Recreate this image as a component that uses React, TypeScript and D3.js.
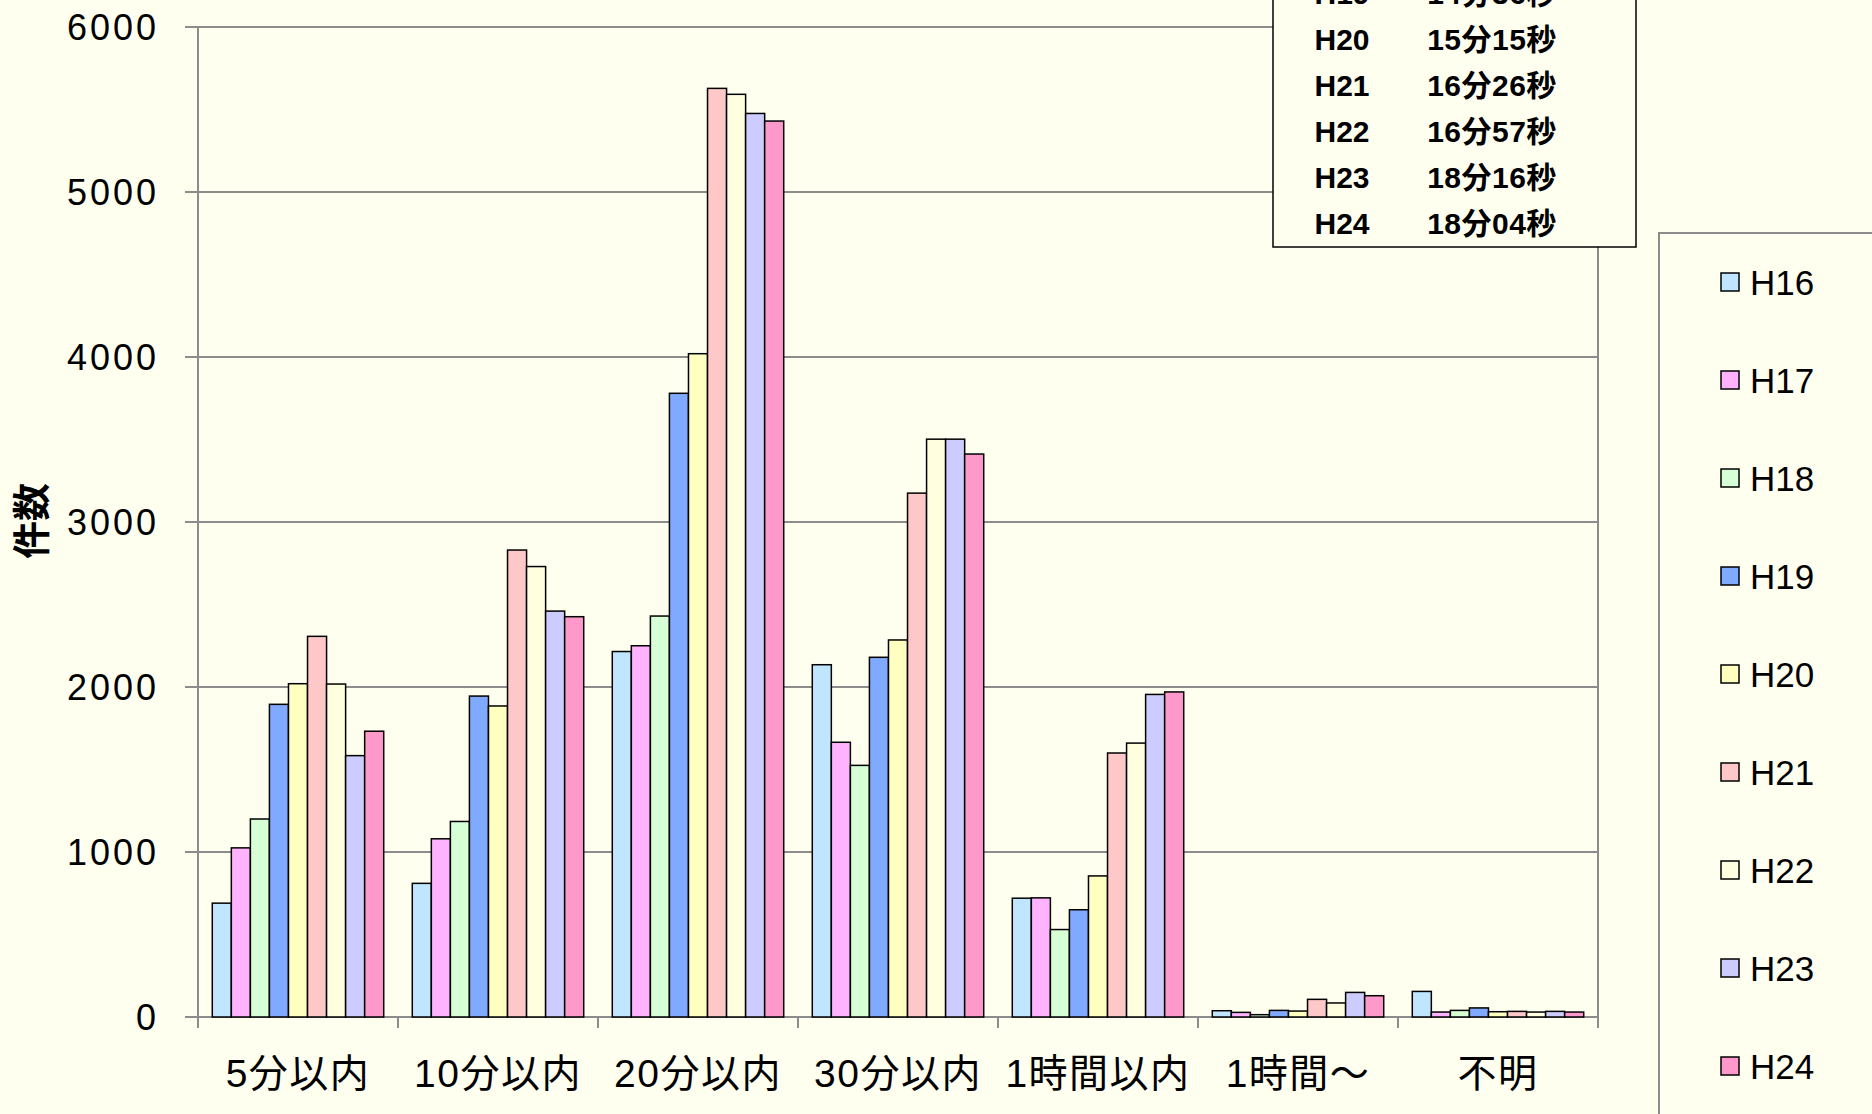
import React from "react";
import * as d3 from "d3";

const categories = ["5分以内", "10分以内", "20分以内", "30分以内", "1時間以内", "1時間～", "不明"];
const years = ["H16", "H17", "H18", "H19", "H20", "H21", "H22", "H23", "H24"];

// counts per year, one entry per category
const h16 = [690, 810, 2215, 2135, 720, 38, 155];
const h17 = [1025, 1080, 2250, 1665, 722, 28, 30];
const h18 = [1200, 1185, 2430, 1525, 530, 14, 40];
const h19 = [1895, 1945, 3780, 2180, 650, 40, 55];
const h20 = [2020, 1885, 4020, 2285, 855, 36, 32];
const h21 = [2307, 2830, 5628, 3175, 1600, 107, 34];
const h22 = [2018, 2730, 5592, 3502, 1660, 85, 30];
const h23 = [1584, 2460, 5476, 3502, 1955, 149, 34];
const h24 = [1732, 2426, 5430, 3412, 1970, 129, 30];
const seriesValues = [h16, h17, h18, h19, h20, h21, h22, h23, h24];

const colors = ["#c0e6ff", "#ffb3ff", "#d6ffd6", "#80aaff", "#ffffc0", "#ffc8c8", "#ffffe0", "#ccccff", "#ff99cc"];
const yTicks = [0, 1000, 2000, 3000, 4000, 5000, 6000];

// average time box (upper rows fall off the top of the picture)
const boxYears = ["H19", "H20", "H21", "H22", "H23", "H24"];
const boxTimes = ["14分36秒", "15分15秒", "16分26秒", "16分57秒", "18分16秒", "18分04秒"];

const W = 1872;
const H = 1114;
const BG = "#fffff0";
const GRID = "#8c8c8c";
const FONT = "'Liberation Sans', Arial, 'Noto Sans CJK JP', sans-serif";

export default function App() {
  const left = 198, right = 1598, top = 27, bottom = 1017;

  const x0 = d3.scaleBand<string>().domain(categories).range([left, right]).padding(0);
  const x1 = d3
    .scaleBand<string>()
    .domain(years)
    .range([0, x0.bandwidth()])
    .paddingInner(0)
    .paddingOuter(0.75);
  const y = d3.scaleLinear().domain([0, 6000]).range([bottom, top]);

  const boxRow = d3.scaleLinear().domain([0, boxYears.length - 1]).range([-7, 223]);
  const legendY = d3.scalePoint<string>().domain(years).range([282, 1066]);

  const boundaries = categories.map((c) => x0(c)!).concat([right]);

  return (
    <div style={{ position: "absolute", left: 0, top: 0 }}>
      <svg width={W} height={H} style={{ display: "block", fontFamily: FONT }}>
        <rect x={0} y={0} width={W} height={H} fill={BG} />

        {/* grid lines + y ticks */}
        {yTicks.map((t) => (
          <g key={t}>
            <line x1={185} x2={right} y1={y(t)} y2={y(t)} stroke={GRID} strokeWidth={2} />
            <text
              x={159}
              y={y(t)}
              dy="0.36em"
              textAnchor="end"
              fontSize={36}
              letterSpacing={3}
              fill="#000"
            >
              {t}
            </text>
          </g>
        ))}

        {/* axes */}
        <line x1={left} x2={left} y1={top} y2={bottom + 11} stroke={GRID} strokeWidth={2} />
        <line x1={right} x2={right} y1={top} y2={bottom + 11} stroke={GRID} strokeWidth={2} />
        {boundaries.map((bx, i) => (
          <line key={i} x1={bx} x2={bx} y1={bottom} y2={bottom + 11} stroke={GRID} strokeWidth={2} />
        ))}

        {/* bars */}
        {categories.map((c, ci) => (
          <g key={c} transform={`translate(${x0(c)},0)`}>
            {years.map((yr, si) => {
              const v = seriesValues[si][ci];
              return (
                <rect
                  key={yr}
                  x={x1(yr)}
                  y={y(v)}
                  width={x1.bandwidth()}
                  height={bottom - y(v)}
                  fill={colors[si]}
                  stroke="#000"
                  strokeWidth={1.5}
                />
              );
            })}
          </g>
        ))}

        {/* category labels */}
        {categories.map((c) => (
          <text
            key={c}
            x={x0(c)! + x0.bandwidth() / 2}
            y={1087}
            textAnchor="middle"
            fontSize={39}
            letterSpacing={1.5}
            fill="#000"
          >
            {c}
          </text>
        ))}

        {/* y axis title */}
        <text
          transform="translate(31,521) rotate(-90)"
          textAnchor="middle"
          dy="0.36em"
          fontSize={38}
          fontWeight="bold"
          fill="#000"
        >
          件数
        </text>

        {/* average time box */}
        <rect x={1273} y={-120} width={363} height={367} fill={BG} stroke="#000" strokeWidth={1.5} />
        {boxYears.map((yr, i) => (
          <g key={yr} fontWeight="bold" fontSize={30} fill="#000">
            <text x={1342} y={boxRow(i)} dy="0.36em" textAnchor="middle">
              {yr}
            </text>
            <text x={1492} y={boxRow(i)} dy="0.36em" textAnchor="middle" letterSpacing={0.5}>
              {boxTimes[i]}
            </text>
          </g>
        ))}

        {/* legend */}
        <rect x={1659} y={233} width={260} height={920} fill={BG} stroke={GRID} strokeWidth={2} />
        {years.map((yr, i) => (
          <g key={yr} transform={`translate(0,${legendY(yr)})`}>
            <rect x={1721} y={-9} width={18} height={18} fill={colors[i]} stroke="#000" strokeWidth={1.5} />
            <text x={1750} y={0} dy="0.36em" fontSize={35} fill="#000">
              {yr}
            </text>
          </g>
        ))}
      </svg>
    </div>
  );
}
